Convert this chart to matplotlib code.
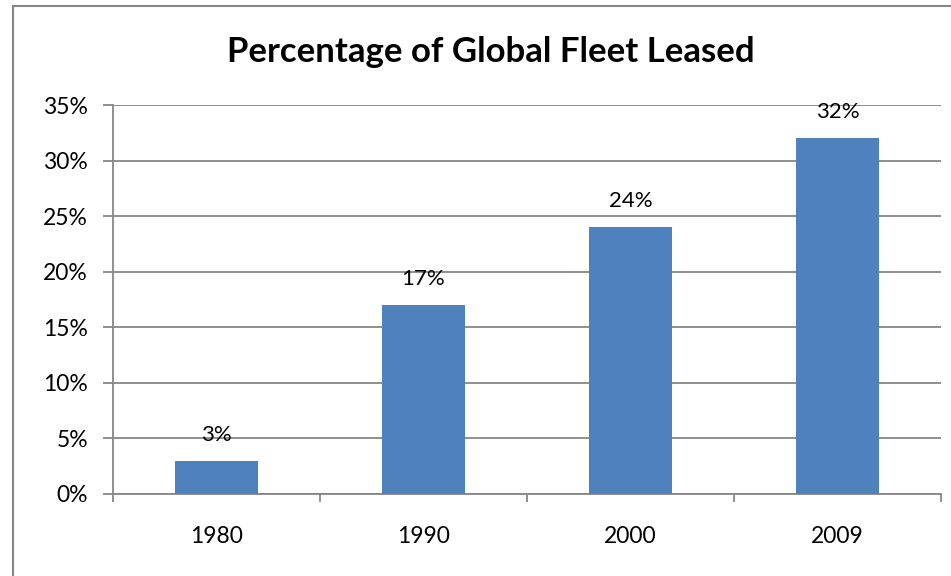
import matplotlib
matplotlib.use("Agg")
import matplotlib.pyplot as plt
from matplotlib.patches import Rectangle
from matplotlib.ticker import FixedLocator, PercentFormatter
import numpy as np

years = ["1980", "1990", "2000", "2009"]
leased_pct = [3, 17, 24, 32]
y_ticks = [0, 5, 10, 15, 20, 25, 30, 35]
title = "Percentage of Global Fleet Leased"

bar_color = "#4F81BD"
grid_color = "#878787"

plt.rcParams["font.family"] = ["Lato", "DejaVu Sans"]

fig = plt.figure(figsize=(9.51, 5.76), dpi=100)
ax = fig.add_axes([113 / 951, 1 - 494 / 576, (941 - 113) / 951, (494 - 105) / 576])

x = np.arange(len(years))
ax.bar(x, leased_pct, width=0.405, color=bar_color, zorder=3)

for xi, v in zip(x, leased_pct):
    ax.annotate(f"{v}%", (xi, v), xytext=(0, 11.5), textcoords="offset points",
                ha="center", va="bottom", fontsize=16, color="black")

ax.set_xlim(-0.5, len(years) - 0.5)
ax.set_ylim(0, 35)
ax.set_yticks(y_ticks)
ax.yaxis.set_major_formatter(PercentFormatter(decimals=0))
ax.grid(axis="y", color=grid_color, linewidth=1.3, zorder=0)
ax.set_axisbelow(True)

ax.set_xticks(x)
ax.set_xticklabels(years)
ax.xaxis.set_minor_locator(FixedLocator(np.arange(-0.5, len(years), 1.0)))
ax.tick_params(axis="x", which="major", length=0, pad=23, labelsize=16.5)
ax.tick_params(axis="x", which="minor", length=6, width=1.3, color=grid_color)
ax.tick_params(axis="y", length=7, width=1.3, color=grid_color, pad=11, labelsize=16.5)

for side in ("top", "right"):
    ax.spines[side].set_visible(False)
for side in ("left", "bottom"):
    ax.spines[side].set_color(grid_color)
    ax.spines[side].set_linewidth(1.3)

fig.text(491 / 951, 1 - 52 / 576, title, ha="center", va="center",
         fontsize=25, fontweight="bold")

fig.patches.append(Rectangle((13 / 951, -0.1), 1.2, (576 - 6) / 576 + 0.1,
                             transform=fig.transFigure, fill=False,
                             edgecolor="#868686", linewidth=1.5))

fig.savefig("out.png", dpi=100)
